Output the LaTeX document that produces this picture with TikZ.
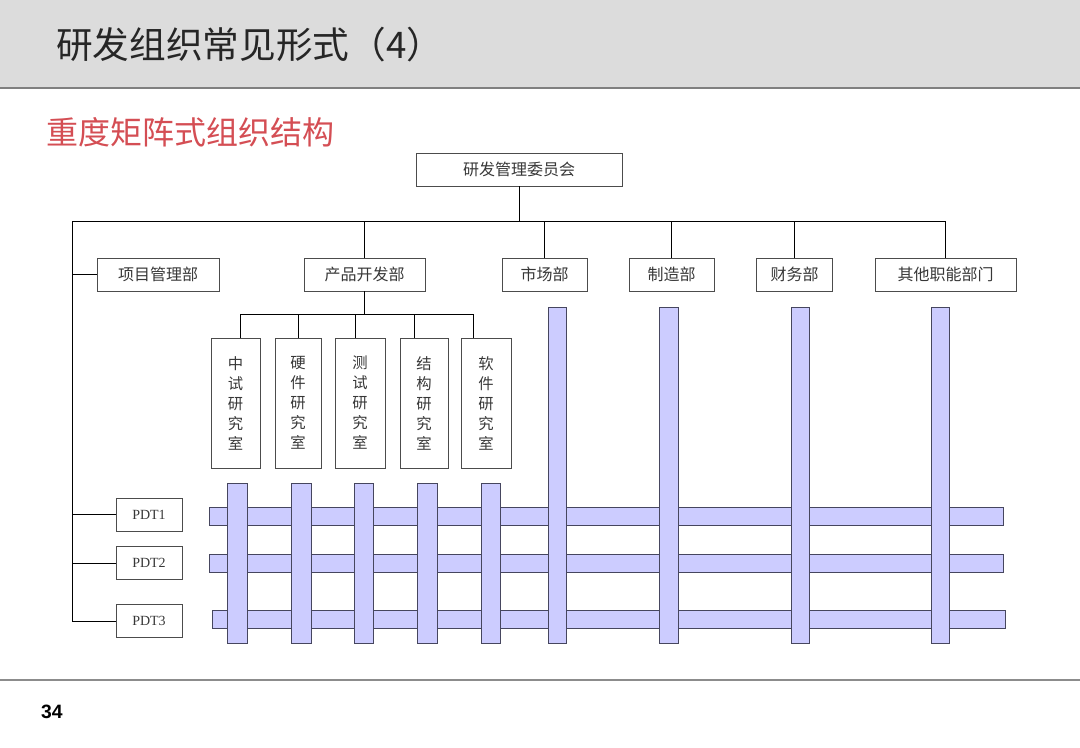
\documentclass[tikz,border=0pt]{standalone}
\usepackage{fontspec}
\setmainfont{Noto Sans CJK SC}
\newfontfamily\pdtfont{Liberation Serif}
\newfontfamily\numfont{Liberation Sans}
\definecolor{barfill}{RGB}{204,204,255}
\definecolor{baredge}{RGB}{70,70,95}
\definecolor{titlebg}{RGB}{220,220,220}
\definecolor{subred}{RGB}{212,78,84}
\definecolor{txt}{RGB}{55,55,55}
\tikzset{
  box/.style={draw=black!70, line width=0.6pt, inner sep=0pt, text=txt, font=\fontsize{12}{14}\selectfont, minimum height=24.75pt},
  subbox/.style={draw=black!70, line width=0.6pt, inner sep=0pt, text=txt, minimum height=97.5pt, align=center, font=\fontsize{11.5}{15}\selectfont},
  pdtbox/.style={draw=black!70, line width=0.6pt, inner sep=0pt, text=txt, minimum width=49.5pt, minimum height=24.75pt, font=\pdtfont\fontsize{10.5}{12}\selectfont},
  conn/.style={draw=black, line width=0.7pt},
  bar/.style={fill=barfill, draw=baredge, line width=0.6pt}
}
\begin{document}
\begin{tikzpicture}[x=0.75pt,y=-0.75pt]
\useasboundingbox (0,0) rectangle (1080,747);
% title bar
\fill[titlebg] (0,0) rectangle (1080,88);
\draw[black!50, line width=1.6pt] (0,88) -- (1080,88);
\node[anchor=west, inner sep=0pt, font=\fontsize{27.5}{30}\selectfont, text=black!85] (title) at (56,45) {研发组织常见形式（4）};
\node[anchor=west, inner sep=0pt, font=\fontsize{24}{26}\selectfont, text=subred] (subtitle) at (46,132) {重度矩阵式组织结构};
% footer
\draw[black!45, line width=1.2pt] (0,680) -- (1080,680);
\node[inner sep=0pt, font=\numfont\bfseries\fontsize{14.5}{16}\selectfont] (pnum) at (52,712) {34};

% nodes
\node[box, minimum width=154.5pt] (top) at (519,169.5) {研发管理委员会};
\node[box, minimum width=91.5pt] (d1) at (158,274.5) {项目管理部};
\node[box, minimum width=90.75pt] (d2) at (364.5,274.5) {产品开发部};
\node[box, minimum width=63.75pt] (d3) at (544.5,274.5) {市场部};
\node[box, minimum width=63.75pt] (d4) at (671.5,274.5) {制造部};
\node[box, minimum width=57pt] (d5) at (794.5,274.5) {财务部};
\node[box, minimum width=105.75pt] (d6) at (945.5,274.5) {其他职能部门};

\node[subbox, minimum width=36.75pt] (s1) at (235.5,403) {中\\试\\研\\究\\室};
\node[subbox, minimum width=34.5pt] (s2) at (298,403) {硬\\件\\研\\究\\室};
\node[subbox, minimum width=37.5pt] (s3) at (360,403) {测\\试\\研\\究\\室};
\node[subbox, minimum width=36pt] (s4) at (424,403) {结\\构\\研\\究\\室};
\node[subbox, minimum width=37.5pt] (s5) at (486,403) {软\\件\\研\\究\\室};

\node[pdtbox] (p1) at (149,514.5) {PDT1};
\node[pdtbox] (p2) at (149,563) {PDT2};
\node[pdtbox] (p3) at (149,621) {PDT3};

% connectors
\coordinate (busL) at (72,221);
\coordinate (busR) at (945.5,221);
\draw[conn] (top.south) -- (top.south |- busL);
\draw[conn] (busL) -- (busR);
\foreach \d in {d2,d3,d4,d5,d6} \draw[conn] (\d.north |- busL) -- (\d.north);
\draw[conn] (busL) -- (busL |- p3.west);
\foreach \d in {d1,p1,p2,p3} \draw[conn] (busL |- \d.west) -- (\d.west);

\coordinate (sb1) at (240,314);
\coordinate (sb2) at (298,314);
\coordinate (sb3) at (355,314);
\coordinate (sb4) at (414,314);
\coordinate (sb5) at (473,314);
\draw[conn] (d2.south) -- (d2.south |- sb1);
\draw[conn] (sb1) -- (sb5);
\draw[conn] (sb1) -- (sb1 |- s1.north);
\draw[conn] (sb2) -- (sb2 |- s2.north);
\draw[conn] (sb3) -- (sb3 |- s3.north);
\draw[conn] (sb4) -- (sb4 |- s4.north);
\draw[conn] (sb5) -- (sb5 |- s5.north);

% matrix bars: horizontal (PDT) first
\draw[bar] (209,507) rectangle (1003,525);
\draw[bar] (209,554) rectangle (1003,572);
\draw[bar] (212,610) rectangle (1005,628);
% vertical bars
\foreach \a/\b in {227/247, 291/311, 354/373, 417/437, 481/500}
  \draw[bar] (\a,483) rectangle (\b,643);
\foreach \a/\b in {548/566, 659/678, 791/809, 931/949}
  \draw[bar] (\a,307) rectangle (\b,643);
\end{tikzpicture}
\end{document}
